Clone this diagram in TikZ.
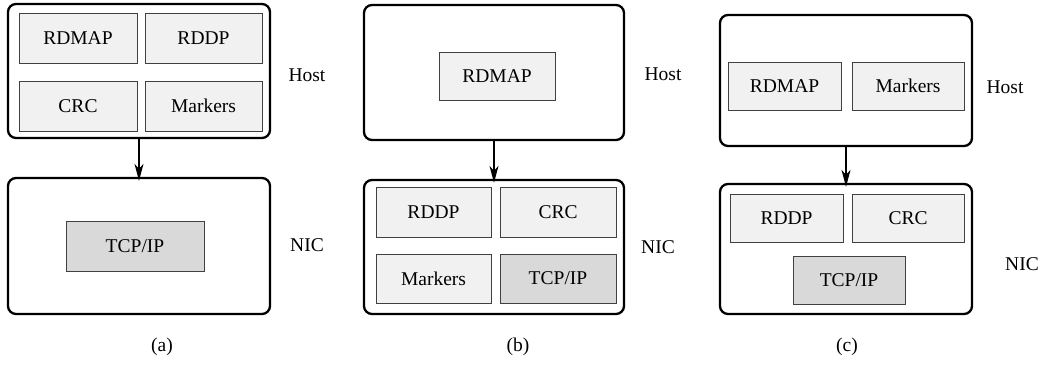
\documentclass[tikz,border=0pt]{standalone}
\usepackage{fontspec}
\setmainfont{Liberation Serif}
\usetikzlibrary{arrows.meta}
\definecolor{lightfill}{gray}{0.945}
\definecolor{darkfill}{gray}{0.85}
\tikzset{
  outerbox/.style={draw=black, line width=2.3pt, rounded corners=8pt, inner sep=0pt},
  layerbox/.style={draw=black!75, line width=0.8pt, fill=lightfill, inner sep=0pt, font=\fontsize{19.5}{22}\selectfont},
  tcpbox/.style={layerbox, fill=darkfill},
  sidelabel/.style={font=\fontsize{19.5}{22}\selectfont, inner sep=0pt},
  flow/.style={line width=1.3pt, -{Stealth[length=17pt, width=9pt, inset=5pt]}, shorten >=-4pt}
}
\begin{document}
\begin{tikzpicture}[x=1pt, y=-1pt]
\useasboundingbox (0,0) rectangle (1040,365);
% ---------- panel (a)
\node[outerbox, minimum width=262pt, minimum height=134pt] (hostA) at (139,71) {};
\node[outerbox, minimum width=262pt, minimum height=136pt] (nicA) at (139,246) {};
\node[layerbox, minimum width=118pt, minimum height=50pt] (rdmapA) at (78,38) {RDMAP};
\node[layerbox, minimum width=117pt, minimum height=50pt] (rddpA) at (203.5,38) {RDDP};
\node[layerbox, minimum width=118pt, minimum height=50pt] (crcA) at (78,106) {CRC};
\node[layerbox, minimum width=117pt, minimum height=50pt] (markA) at (203.5,106) {Markers};
\node[tcpbox, minimum width=138pt, minimum height=50pt] (tcpA) at (135,246) {TCP/IP};
\node[sidelabel] (hostlA) at (307,75) {Host};
\node[sidelabel] (niclA) at (307,245) {NIC};
\node[sidelabel] (capA) at (162,347) {(a)};
\draw[flow] (hostA.south) -- (nicA.north);
% ---------- panel (b)
\node[outerbox, minimum width=260pt, minimum height=135pt] (hostB) at (494,72.5) {};
\node[outerbox, minimum width=260pt, minimum height=134pt] (nicB) at (494,247) {};
\node[layerbox, minimum width=116pt, minimum height=48pt] (rdmapB) at (497,76) {RDMAP};
\node[layerbox, minimum width=115pt, minimum height=50pt] (rddpB) at (433.5,212) {RDDP};
\node[layerbox, minimum width=116pt, minimum height=50pt] (crcB) at (558,212) {CRC};
\node[layerbox, minimum width=115pt, minimum height=49pt] (markB) at (433.5,278.5) {Markers};
\node[tcpbox, minimum width=116pt, minimum height=49pt] (tcpB) at (558,278.5) {TCP/IP};
\node[sidelabel] (hostlB) at (663,74) {Host};
\node[sidelabel] (niclB) at (658,247) {NIC};
\node[sidelabel] (capB) at (518,347) {(b)};
\draw[flow] (hostB.south) -- (nicB.north);
% ---------- panel (c)
\node[outerbox, minimum width=252pt, minimum height=131pt] (hostC) at (846,80.5) {};
\node[outerbox, minimum width=252pt, minimum height=130pt] (nicC) at (846,249) {};
\node[layerbox, minimum width=113pt, minimum height=48pt] (rdmapC) at (784.5,86) {RDMAP};
\node[layerbox, minimum width=112pt, minimum height=48pt] (markC) at (908,86) {Markers};
\node[layerbox, minimum width=113pt, minimum height=48pt] (rddpC) at (786.5,218) {RDDP};
\node[layerbox, minimum width=112pt, minimum height=48pt] (crcC) at (908,218) {CRC};
\node[tcpbox, minimum width=112pt, minimum height=48pt] (tcpC) at (849,280) {TCP/IP};
\node[sidelabel] (hostlC) at (1005,87) {Host};
\node[sidelabel] (niclC) at (1022,264) {NIC};
\node[sidelabel] (capC) at (847,347) {(c)};
\draw[flow] (hostC.south) -- (nicC.north);
\end{tikzpicture}
\end{document}
